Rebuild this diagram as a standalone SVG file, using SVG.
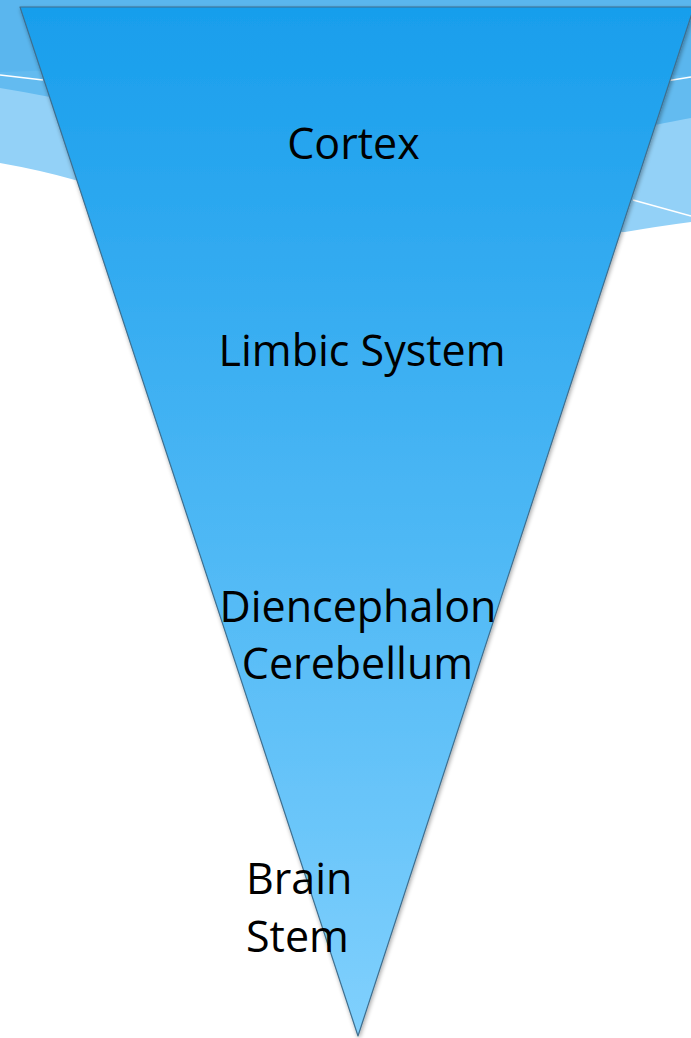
<svg xmlns="http://www.w3.org/2000/svg" width="691" height="1038" viewBox="0 0 691 1038">
<defs>
<linearGradient id="tri" x1="0" y1="0" x2="0" y2="1">
<stop offset="0" stop-color="#189eec"/>
<stop offset="1" stop-color="#80d0fd"/>
</linearGradient>
<filter id="sh" x="-10%" y="-10%" width="120%" height="120%">
<feGaussianBlur in="SourceAlpha" stdDeviation="2"/>
<feOffset dx="1" dy="2"/>
<feComponentTransfer><feFuncA type="linear" slope="0.35"/></feComponentTransfer>
<feMerge><feMergeNode/><feMergeNode in="SourceGraphic"/></feMerge>
</filter>
<style>
.lbl{font-family:"Open Sans","Noto Sans",sans-serif;font-size:43px;fill:#000}
</style>
</defs>
<rect width="691" height="1038" fill="#ffffff"/>
<g id="background">
<path d="M0,0 H691 V222 Q660,226 625,232 L360,240 L75,180 Q40,170 0,163 Z" fill="#93d1f7"/>
<path d="M0,0 H691 V118 Q675,121 655,125 L360,130 L50,97 Q25,92 0,88 Z" fill="#63bbf0"/>
<path d="M0,0 H691 V76 L360,60 L0,72 Z" fill="#5ab6ee"/>
<path d="M0,75 L43,80" stroke="#ffffff" stroke-width="1.5"/>
<path d="M633,200 L691,216" stroke="#ffffff" stroke-width="1.5"/>
<path d="M660,82 L691,77" stroke="#ffffff" stroke-width="1.5"/>
</g>
<g id="pyramid" filter="url(#sh)">
<polygon points="20,7 694,7 358,1036" fill="url(#tri)" stroke="#3f6f8f" stroke-width="1.2" stroke-linejoin="round"/>
</g>
<g id="cortex"><text class="lbl" x="353.5" y="159" text-anchor="middle">Cortex</text></g>
<g id="limbic"><text class="lbl" x="362" y="366" text-anchor="middle">Limbic System</text></g>
<g id="diencephalon"><text class="lbl" x="358" y="622" text-anchor="middle">Diencephalon</text></g>
<g id="cerebellum"><text class="lbl" x="357.5" y="679" text-anchor="middle">Cerebellum</text></g>
<g id="brainstem"><text class="lbl" x="246" y="894">Brain</text><text class="lbl" x="246" y="952">Stem</text></g>
</svg>
